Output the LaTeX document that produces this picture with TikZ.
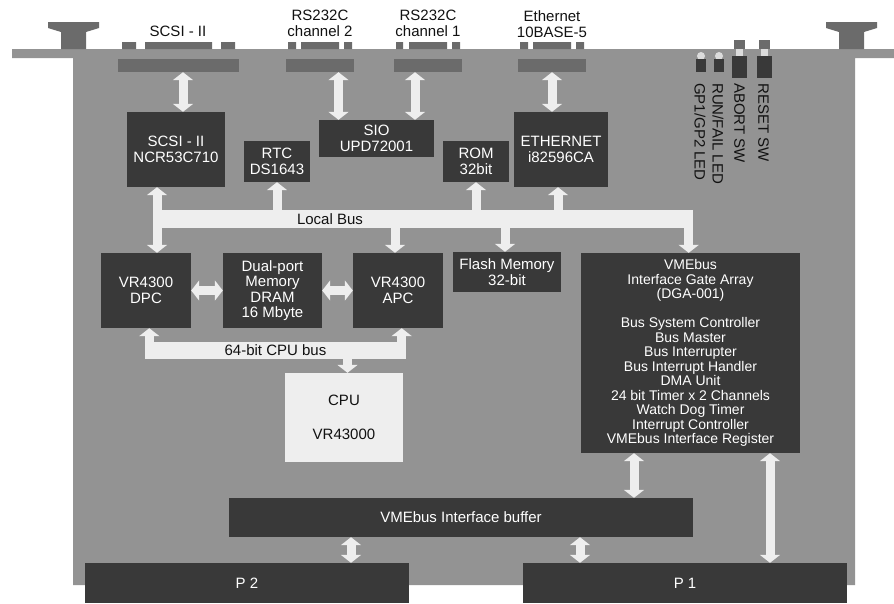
\documentclass[tikz,border=0pt]{standalone}
\usepackage{fontspec}
\setmainfont{Liberation Sans}
\usetikzlibrary{arrows.meta}

\definecolor{boardgray}{HTML}{939393}
\definecolor{pluggray}{HTML}{6B6B6B}
\definecolor{chipgray}{HTML}{393939}
\definecolor{busgray}{HTML}{EEEEEE}
\definecolor{capgray}{HTML}{DCDCDC}
\definecolor{inkgray}{HTML}{111111}

\tikzset{
  chip/.style={fill=chipgray,text=white,align=center,inner sep=0pt,
    font=\fontsize{15}{15.5}\selectfont},
  cpubox/.style={chip,fill=busgray,text=inkgray},
  plug/.style={fill=pluggray,inner sep=0pt},
  busband/.style={fill=busgray,inner sep=0pt,text=inkgray,
    font=\fontsize{15}{15.5}\selectfont},
  toptext/.style={align=center,inner sep=0pt,text=inkgray,
    font=\fontsize{15}{16}\selectfont},
  sidetext/.style={inner sep=0pt,text=inkgray,rotate=-90,anchor=west,
    font=\fontsize{15}{16}\selectfont},
  dbl/.style={draw=busgray,line width=9pt,
    {Triangle[length=8pt,width=20pt]}-{Triangle[length=8pt,width=20pt]}},
  tipend/.style={draw=busgray,line width=9pt,-{Triangle[length=8pt,width=20pt]}},
}

\begin{document}
\begin{tikzpicture}[x=1pt,y=-1pt]
  \useasboundingbox (0,0) rectangle (894,603);

  % board and front panel
  \fill[boardgray] (12,49) -- (894,49) -- (894,58) -- (855,58) -- (855,585)
    -- (73,585) -- (73,58) -- (12,58) -- cycle;
  \foreach \mx in {73.5,851.5}
    \fill[pluggray] (\mx-25.5,22) -- (\mx+25.5,22) -- (\mx+25.5,28) -- (\mx+12.5,32)
      -- (\mx+12.5,49) -- (\mx-12.5,49) -- (\mx-12.5,32) -- (\mx-25.5,28) -- cycle;

  % connector pads on the panel edge
  \fill[pluggray] (122,42) rectangle (136,49) (145,42) rectangle (212,49) (221,42) rectangle (235,49);
  \fill[pluggray] (288,42) rectangle (296,49) (301,42) rectangle (339,49) (344,42) rectangle (352,49);
  \fill[pluggray] (396,42) rectangle (403,49) (409,42) rectangle (447,49) (452,42) rectangle (460,49);
  \fill[pluggray] (520,42) rectangle (528,49) (533,42) rectangle (571,49) (576,42) rectangle (584,49);

  \node[plug,minimum width=121pt,minimum height=13pt] (scsiconn) at (178.5,65.5) {};
  \node[plug,minimum width=68pt,minimum height=13pt] (ch2conn) at (320,65.5) {};
  \node[plug,minimum width=68pt,minimum height=13pt] (ch1conn) at (428,65.5) {};
  \node[plug,minimum width=68pt,minimum height=13pt] (ethconn) at (552,65.5) {};

  \node[toptext,anchor=north] (scsitxt) at (178,26) {SCSI - II};
  \node[toptext,anchor=north] (ch2txt) at (320,10) {RS232C\\channel 2};
  \node[toptext,anchor=north] (ch1txt) at (428,10) {RS232C\\channel 1};
  \node[toptext,anchor=north] (ethtxt) at (552,10) {Ethernet\\10BASE-5};

  % LEDs and switches
  \foreach \lx in {701,719} {
    \fill[capgray] (\lx,56) circle (4pt);
    \fill[chipgray] (\lx-5,59) rectangle (\lx+5,72);
  }
  \foreach \sx in {739.5,764} {
    \fill[pluggray] (\sx-5.5,40) rectangle (\sx+5.5,49);
    \fill[capgray] (\sx-3.5,49) rectangle (\sx+3.5,56);
    \fill[chipgray] (\sx-7.5,56) rectangle (\sx+7.5,78);
  }
  \node[sidetext] (gpled) at (700,83) {GP1/GP2 LED};
  \node[sidetext] (runled) at (718,83) {RUN/FAIL LED};
  \node[sidetext] (abortsw) at (739.5,83) {ABORT SW};
  \node[sidetext] (resetsw) at (763.5,83) {RESET SW};

  % chips
  \node[chip,minimum width=98pt,minimum height=75pt] (scsi) at (176,149.5) {SCSI - II\\NCR53C710};
  \node[chip,minimum width=66pt,minimum height=41pt] (rtc) at (277,161.5) {RTC\\DS1643};
  \node[chip,minimum width=115pt,minimum height=37pt] (sio) at (376.5,138.5) {SIO\\UPD72001};
  \node[chip,minimum width=66pt,minimum height=41pt] (rom) at (476,161.5) {ROM\\32bit};
  \node[chip,minimum width=94pt,minimum height=75pt] (eth) at (561,149.5) {ETHERNET\\i82596CA};

  \node[chip,minimum width=90pt,minimum height=75pt] (dpc) at (146,290.5) {VR4300\\DPC};
  \node[chip,minimum width=99pt,minimum height=75pt] (dram) at (272.5,290.5) {Dual-port\\Memory\\DRAM\\16 Mbyte};
  \node[chip,minimum width=90pt,minimum height=75pt] (apc) at (398,290.5) {VR4300\\APC};
  \node[chip,minimum width=108pt,minimum height=40pt] (flash) at (507,272) {Flash Memory\\32-bit};
  \node[chip,minimum width=219pt,minimum height=200pt,font=\fontsize{14}{14.5}\selectfont]
    (gate) at (690.5,353) {VMEbus\\Interface Gate Array\\(DGA-001)\\[14.5pt]Bus System Controller\\
    Bus Master\\Bus Interrupter\\Bus Interrupt Handler\\DMA Unit\\24 bit Timer x 2 Channels\\
    Watch Dog Timer\\Interrupt Controller\\VMEbus Interface Register};
  \node[cpubox,minimum width=118pt,minimum height=89pt] (cpu) at (344,417.5) {CPU\\[18pt]VR43000};

  \node[chip,minimum width=464pt,minimum height=39pt] (buffer) at (461,517.5) {VMEbus Interface buffer};
  \node[chip,minimum width=324pt,minimum height=40pt] (p2) at (247,583) {P 2};
  \node[chip,minimum width=324pt,minimum height=40pt] (p1) at (685,583) {P 1};

  % buses
  \node[busband,minimum width=536pt,minimum height=18pt] (localbus) at (425,219) {};
  \node[busband,text=inkgray] (lbtxt) at (330,219) {Local Bus};
  \node[busband,minimum width=261pt,minimum height=17pt] (cpubus) at (275.5,350.5) {64-bit CPU bus};

  % panel connectors to chips
  \draw[dbl] ([xshift=4.5pt]scsiconn.south) -- ([xshift=4.5pt]scsiconn.south |- scsi.north);
  \draw[dbl] ([xshift=-38pt]sio.north |- ch2conn.south) -- ([xshift=-38pt]sio.north);
  \draw[dbl] ([xshift=38.5pt]sio.north |- ch1conn.south) -- ([xshift=38.5pt]sio.north);
  \draw[dbl] (ethconn.south) -- (ethconn.south |- eth.north);

  % local bus
  \draw[dbl] ([xshift=-19pt]scsi.south) -- ([xshift=11pt]dpc.north);
  \draw[tipend] (rtc.south |- localbus.north) -- (rtc.south);
  \draw[tipend] (rom.south |- localbus.north) -- (rom.south);
  \draw[tipend] ([xshift=-3pt]eth.south |- localbus.north) -- ([xshift=-3pt]eth.south);
  \draw[tipend] ([xshift=-3pt]apc.north |- localbus.south) -- ([xshift=-3pt]apc.north);
  \draw[tipend] ([xshift=-2pt]flash.north |- localbus.south) -- ([xshift=-2pt]flash.north);
  \draw[tipend] ([xshift=-4.5pt]localbus.north east) -- ([xshift=-4.5pt]localbus.north east |- gate.north);

  % memory and cpu bus
  \draw[dbl] (dpc.east) -- (dram.west);
  \draw[dbl] (dram.east) -- (apc.west);
  \draw[tipend] ([xshift=4.5pt]cpubus.north west) -- ([xshift=4.5pt]cpubus.north west |- dpc.south);
  \draw[tipend] ([xshift=-4.5pt]cpubus.north east) -- ([xshift=-4.5pt]cpubus.north east |- apc.south);
  \draw[tipend] ([xshift=3.5pt]cpu.north |- cpubus.south) -- ([xshift=3.5pt]cpu.north);

  % VMEbus side
  \draw[dbl] ([xshift=-56.5pt]gate.south) -- ([xshift=-56.5pt]gate.south |- buffer.north);
  \draw[dbl] ([xshift=79.5pt]gate.south) -- ([xshift=79.5pt]gate.south |- p1.north);
  \draw[dbl] ([xshift=-110pt]buffer.south) -- ([xshift=-110pt]buffer.south |- p2.north);
  \draw[dbl] ([xshift=119pt]buffer.south) -- ([xshift=119pt]buffer.south |- p1.north);
\end{tikzpicture}
\end{document}
